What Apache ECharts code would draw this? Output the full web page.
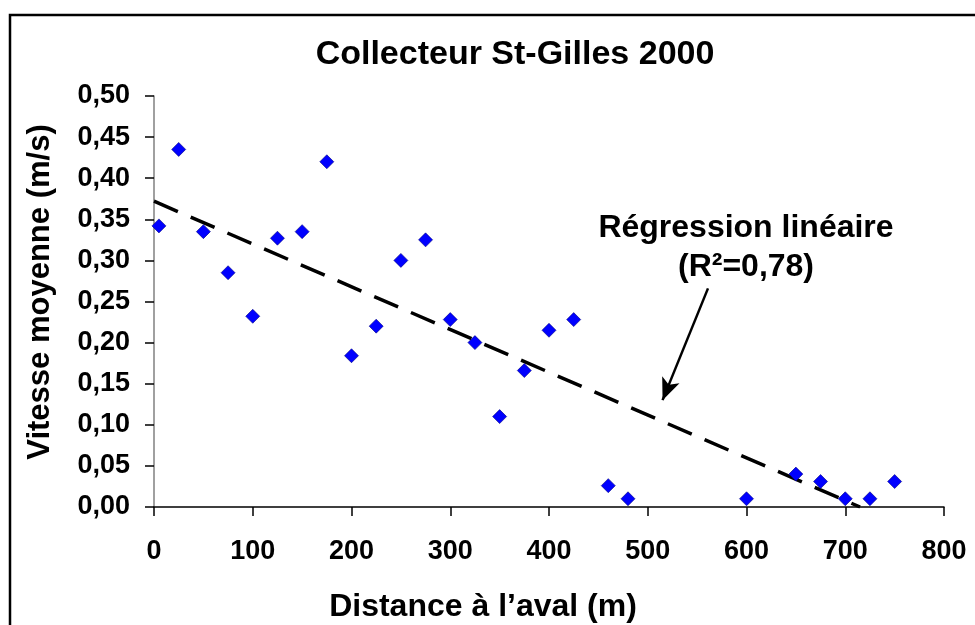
<!DOCTYPE html>
<html>
<head>
<meta charset="utf-8">
<script src="https://cdn.jsdelivr.net/npm/echarts@6/dist/echarts.min.js"></script>
<style>
  html, body { margin: 0; padding: 0; background: #fff; }
  #chart { width: 975px; height: 625px; }
</style>
</head>
<body>
<div id="chart"></div>
<script>
  // distances (m) and mean velocities (m/s)
  var distance = [5, 25, 50, 75, 100, 125, 150, 175, 200, 225, 250, 275, 300, 325,
                  350, 375, 400, 425, 460, 480, 600, 650, 675, 700, 725, 750];
  var vitesse = [0.342, 0.435, 0.335, 0.285, 0.232, 0.327, 0.335, 0.420, 0.184, 0.220,
                 0.300, 0.325, 0.228, 0.200, 0.110, 0.166, 0.215, 0.228, 0.026, 0.010,
                 0.010, 0.040, 0.031, 0.010, 0.010, 0.031];

  // regression line ends, as drawn
  var trendX = [0, 715];
  var trendY = [0.372, 0];

  // arrow from the annotation to the line
  var arrowX = [561, 515];
  var arrowY = [0.266, 0.130];

  var font = '"Liberation Sans", Arial, sans-serif';

  var points = distance.map(function (d, i) { return [d, vitesse[i]]; });
  var trend = trendX.map(function (d, i) { return [d, trendY[i]]; });

  var chart = echarts.init(document.getElementById('chart'));

  chart.setOption({
    animation: false,
    backgroundColor: '#fff',
    grid: { left: 154, top: 96, right: 31, bottom: 118 },
    xAxis: {
      type: 'value',
      min: 0, max: 800, interval: 100,
      axisLine: { lineStyle: { color: '#000', width: 1.5 } },
      axisTick: { length: 9, lineStyle: { color: '#000', width: 1.5 } },
      axisLabel: { margin: 31, color: '#000', fontSize: 27, fontWeight: 'bold', fontFamily: font },
      splitLine: { show: false }
    },
    yAxis: {
      type: 'value',
      min: 0, max: 0.5, interval: 0.05,
      axisLine: { show: true, lineStyle: { color: '#808080', width: 1.5 } },
      axisTick: { show: true, length: 9, lineStyle: { color: '#000', width: 1.5 } },
      axisLabel: {
        margin: 24, color: '#000', fontSize: 27, fontWeight: 'bold', fontFamily: font,
        formatter: function (v) { return v.toFixed(2).replace('.', ','); }
      },
      splitLine: { show: false }
    },
    series: [
      {
        type: 'line',
        data: trend,
        symbol: 'none',
        lineStyle: { color: '#000', width: 3.5, type: [26, 14] },
        z: 2
      },
      {
        type: 'scatter',
        data: points,
        symbol: 'diamond',
        symbolSize: 14,
        itemStyle: { color: '#0000ff', opacity: 1, borderColor: '#000080', borderWidth: 0.6 },
        z: 3,
        markLine: {
          silent: true,
          symbol: ['none', 'arrow'],
          symbolSize: [14, 22],
          label: { show: false },
          lineStyle: { color: '#000', width: 2.5, type: 'solid' },
          data: [[
            { coord: [arrowX[0], arrowY[0]] },
            { coord: [arrowX[1], arrowY[1]] }
          ]]
        }
      }
    ],
    graphic: [
      {
        type: 'rect',
        shape: { x: 10, y: 15, width: 990, height: 640 },
        style: { fill: 'none', stroke: '#000', lineWidth: 2.5 },
        silent: true
      },
      {
        type: 'text', x: 515, y: 55,
        style: { text: 'Collecteur St-Gilles 2000', font: 'bold 34px ' + font, fill: '#000',
                 textAlign: 'center', textVerticalAlign: 'middle' }
      },
      {
        type: 'text', x: 40, y: 292, rotation: Math.PI / 2,
        style: { text: 'Vitesse moyenne (m/s)', font: 'bold 31px ' + font, fill: '#000',
                 textAlign: 'center', textVerticalAlign: 'middle' }
      },
      {
        type: 'text', x: 483, y: 607,
        style: { text: 'Distance à l\u2019aval (m)', font: 'bold 32px ' + font, fill: '#000',
                 textAlign: 'center', textVerticalAlign: 'middle' }
      },
      {
        type: 'text', x: 746, y: 228,
        style: { text: 'Régression linéaire', font: 'bold 32px ' + font, fill: '#000',
                 textAlign: 'center', textVerticalAlign: 'middle' }
      },
      {
        type: 'text', x: 746, y: 267,
        style: { text: '(R²=0,78)', font: 'bold 32px ' + font, fill: '#000',
                 textAlign: 'center', textVerticalAlign: 'middle' }
      }
    ]
  });
</script>
</body>
</html>
